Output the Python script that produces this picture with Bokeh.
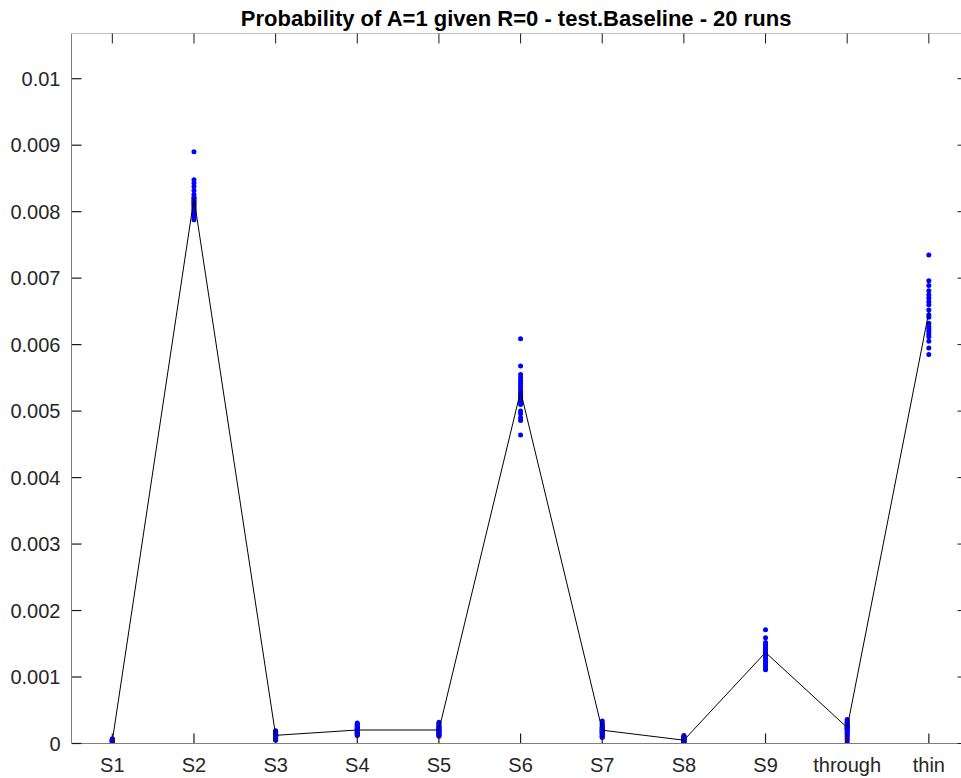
from bokeh.plotting import figure
from bokeh.models import FixedTicker, Title, Range1d, Span
from bokeh.embed import file_html
from bokeh.resources import INLINE

categories = ["S1", "S2", "S3", "S4", "S5", "S6", "S7", "S8", "S9", "through", "thin"]

runs = {
    "S1": [0.00007, 0.00006, 0.00006, 0.00005, 0.00005, 0.00005, 0.00004, 0.00004, 0.00004, 0.00004,
           0.00004, 0.00003, 0.00003, 0.00003, 0.00003, 0.00002, 0.00002, 0.00002, 0.00001, 0.00001],
    "S2": [0.00890, 0.00848, 0.00843, 0.00838, 0.00832, 0.00826, 0.00822, 0.00820, 0.00818, 0.00816,
           0.00814, 0.00812, 0.00810, 0.00808, 0.00805, 0.00802, 0.00798, 0.00795, 0.00791, 0.00788],
    "S3": [0.00019, 0.00018, 0.00017, 0.00016, 0.00015, 0.00014, 0.00013, 0.00013, 0.00012, 0.00012,
           0.00012, 0.00011, 0.00011, 0.00010, 0.00010, 0.00009, 0.00008, 0.00007, 0.00006, 0.00005],
    "S4": [0.00031, 0.00029, 0.00028, 0.00026, 0.00025, 0.00024, 0.00023, 0.00022, 0.00021, 0.00020,
           0.00020, 0.00019, 0.00018, 0.00017, 0.00016, 0.00016, 0.00015, 0.00014, 0.00013, 0.00012],
    "S5": [0.00032, 0.00030, 0.00028, 0.00027, 0.00025, 0.00024, 0.00023, 0.00022, 0.00021, 0.00020,
           0.00020, 0.00019, 0.00018, 0.00017, 0.00016, 0.00015, 0.00014, 0.00013, 0.00012, 0.00011],
    "S6": [0.00609, 0.00568, 0.00555, 0.00550, 0.00546, 0.00542, 0.00538, 0.00534, 0.00530, 0.00527,
           0.00524, 0.00521, 0.00518, 0.00514, 0.00510, 0.00500, 0.00496, 0.00490, 0.00486, 0.00464],
    "S7": [0.00034, 0.00031, 0.00029, 0.00027, 0.00025, 0.00024, 0.00023, 0.00022, 0.00021, 0.00020,
           0.00019, 0.00018, 0.00017, 0.00016, 0.00015, 0.00014, 0.00013, 0.00011, 0.00010, 0.00009],
    "S8": [0.00012, 0.00011, 0.00010, 0.00009, 0.00008, 0.00007, 0.00007, 0.00006, 0.00006, 0.00005,
           0.00005, 0.00005, 0.00004, 0.00004, 0.00003, 0.00003, 0.00002, 0.00002, 0.00001, 0.00000],
    "S9": [0.00171, 0.00159, 0.00152, 0.00149, 0.00146, 0.00144, 0.00142, 0.00140, 0.00139, 0.00137,
           0.00135, 0.00133, 0.00131, 0.00128, 0.00125, 0.00122, 0.00119, 0.00116, 0.00113, 0.00111],
    "through": [0.00036, 0.00034, 0.00032, 0.00030, 0.00029, 0.00027, 0.00026, 0.00025, 0.00024, 0.00023,
                0.00022, 0.00021, 0.00019, 0.00017, 0.00015, 0.00013, 0.00011, 0.00008, 0.00005, 0.00001],
    "thin": [0.00735, 0.00696, 0.00689, 0.00681, 0.00675, 0.00670, 0.00665, 0.00660, 0.00652, 0.00645,
             0.00641, 0.00632, 0.00627, 0.00624, 0.00620, 0.00616, 0.00612, 0.00605, 0.00595, 0.00585],
}

means = [0.00004, 0.00820, 0.000123, 0.000203, 0.000203, 0.00530, 0.00020, 0.00005, 0.00137, 0.00024, 0.00649]

y_ticks = [0, 0.001, 0.002, 0.003, 0.004, 0.005, 0.006, 0.007, 0.008, 0.009, 0.01]
y_labels = ["0", "0.001", "0.002", "0.003", "0.004", "0.005", "0.006", "0.007", "0.008", "0.009", "0.01"]

title_text = "Probability of A=1 given R=0 - test.Baseline - 20 runs"

FONT = "Liberation Sans"
AX_LINE = "#7f7f7f"
TICK = "#1a1a1a"
LABEL = "#262626"

W, H = 961, 778
BL, BR, BT, BB = 71, 0, 33, 35
X0, X1 = 0.5, 11.40
Y0, Y1 = 0.0, 0.01068
TICK_LEN = 10   # px, pointing into the frame
RIGHT_STUB = 4  # px visible of the right-hand ticks

# data units per screen pixel (ranges and frame size are fixed)
dx_px = (X1 - X0) / (W - BL - BR)
dy_px = (Y1 - Y0) / (H - BT - BB)

x_pos = list(range(1, len(categories) + 1))

p = figure(width=W, height=H, output_backend="svg", toolbar_location=None,
           x_range=Range1d(X0, X1), y_range=Range1d(Y0, Y1),
           min_border_left=BL, min_border_right=BR, min_border_top=BT, min_border_bottom=BB)
p.title = None
p.add_layout(Title(text=title_text, align="center", text_font=FONT, text_font_size="22px",
                   text_font_style="bold", text_color="#000000", standoff=5, offset=2), "above")

p.xgrid.visible = False
p.ygrid.visible = False
p.outline_line_color = None
p.background_fill_color = "white"
p.border_fill_color = "white"

# top spine
p.add_layout(Span(location=Y1, dimension="width", line_color=AX_LINE, line_width=1))

# dots
px, py = [], []
for i, c in enumerate(categories):
    for v in runs[c]:
        px.append(x_pos[i])
        py.append(v)
p.scatter(x=px, y=py, size=5, fill_color="#0000ff", line_color="#0000ff", line_width=0)

# mean line
p.line(x=x_pos, y=means, line_color="#000000", line_width=1)

# inward tick marks as short segments, drawn on top of everything
n = len(x_pos)
m = len(y_ticks)
p.segment(x0=x_pos, y0=[Y0 + 0.5 * dy_px] * n, x1=x_pos, y1=[Y0 + TICK_LEN * dy_px] * n,
          line_color=TICK, line_width=1.2, level="overlay")
p.segment(x0=x_pos, y0=[Y1] * n, x1=x_pos, y1=[Y1 - TICK_LEN * dy_px] * n,
          line_color=TICK, line_width=1, level="overlay")
p.segment(x0=[X0 + 0.5 * dx_px] * m, y0=y_ticks, x1=[X0 + TICK_LEN * dx_px] * m, y1=y_ticks,
          line_color=TICK, line_width=1.2, level="overlay")
p.segment(x0=[X1] * m, y0=y_ticks, x1=[X1 - RIGHT_STUB * dx_px] * m, y1=y_ticks,
          line_color=TICK, line_width=1, level="overlay")

# bottom axis
xa = p.xaxis[0]
xa.ticker = FixedTicker(ticks=x_pos)
xa.major_label_overrides = {x: c for x, c in zip(x_pos, categories)}
xa.major_tick_in = 0
xa.major_tick_out = 0
xa.minor_tick_line_color = None
xa.axis_line_color = AX_LINE
xa.major_label_text_font = FONT
xa.major_label_text_font_size = "20px"
xa.major_label_text_color = LABEL
xa.major_label_standoff = 10

# left axis
ya = p.yaxis[0]
ya.ticker = FixedTicker(ticks=y_ticks)
ya.major_label_overrides = {t: l for t, l in zip(y_ticks, y_labels)}
ya.major_tick_in = 0
ya.major_tick_out = 0
ya.minor_tick_line_color = None
ya.axis_line_color = AX_LINE
ya.major_label_text_font = FONT
ya.major_label_text_font_size = "20px"
ya.major_label_text_color = LABEL
ya.major_label_standoff = 11

open("out.html", "w").write(file_html(p, INLINE))
